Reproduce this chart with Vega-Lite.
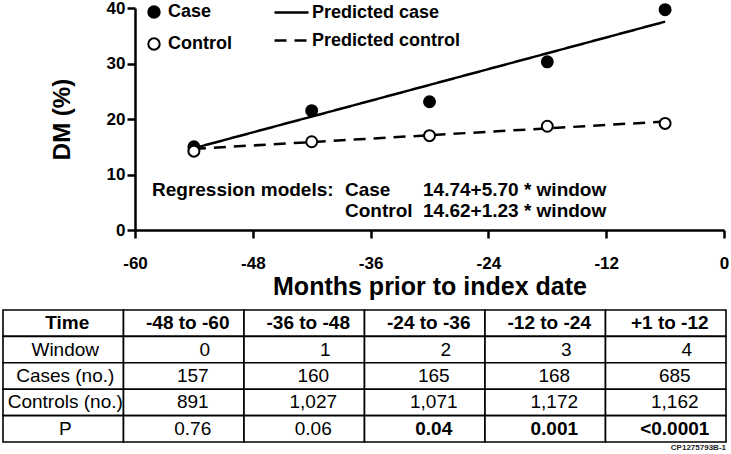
{
  "$schema": "https://vega.github.io/schema/vega-lite/v6.json",
  "autosize": {"type": "none"},
  "padding": {"left": 135, "top": 8, "right": 7, "bottom": 224},
  "width": 589,
  "height": 222,
  "background": "white",
  "config": {
    "view": {"stroke": null},
    "font": "Liberation Sans",
    "axis": {
      "grid": false,
      "domainColor": "black",
      "domainWidth": 2.5,
      "tickColor": "black",
      "tickWidth": 2.5,
      "tickSize": 8,
      "labelFont": "Liberation Sans",
      "labelFontWeight": "bold",
      "labelFontSize": 17,
      "labelColor": "black",
      "labelFlush": false,
      "labelOverlap": false,
      "labelExpr": "toString(datum.value)",
      "titleFont": "Liberation Sans",
      "titleFontWeight": "bold",
      "titleColor": "black",
      "titleFontSize": 24
    },
    "axisX": {"labelPadding": 17, "titlePadding": 3, "titleFontSize": 25},
    "axisY": {"labelPadding": 2, "titlePadding": 32}
  },
  "datasets": {
    "obs": [
      {"m": -54, "grp": "Case", "pct": 15.0},
      {"m": -42, "grp": "Case", "pct": 21.5},
      {"m": -30, "grp": "Case", "pct": 23.1},
      {"m": -18, "grp": "Case", "pct": 30.3},
      {"m": -6, "grp": "Case", "pct": 39.7},
      {"m": -54, "grp": "Control", "pct": 14.2},
      {"m": -42, "grp": "Control", "pct": 15.9},
      {"m": -30, "grp": "Control", "pct": 17.0},
      {"m": -18, "grp": "Control", "pct": 18.7},
      {"m": -6, "grp": "Control", "pct": 19.2}
    ],
    "pred": [
      {"m": -54, "series": "Predicted case", "pct": 14.74},
      {"m": -42, "series": "Predicted case", "pct": 20.44},
      {"m": -30, "series": "Predicted case", "pct": 26.14},
      {"m": -18, "series": "Predicted case", "pct": 31.84},
      {"m": -6, "series": "Predicted case", "pct": 37.54},
      {"m": -54, "series": "Predicted control", "pct": 14.62},
      {"m": -42, "series": "Predicted control", "pct": 15.85},
      {"m": -30, "series": "Predicted control", "pct": 17.08},
      {"m": -18, "series": "Predicted control", "pct": 18.31},
      {"m": -6, "series": "Predicted control", "pct": 19.54}
    ],
    "table": [
      {"r": 0, "c": 0, "t": "Time", "sig": false},
      {"r": 0, "c": 1, "t": "-48 to -60", "sig": false},
      {"r": 0, "c": 2, "t": "-36 to -48", "sig": false},
      {"r": 0, "c": 3, "t": "-24 to -36", "sig": false},
      {"r": 0, "c": 4, "t": "-12 to -24", "sig": false},
      {"r": 0, "c": 5, "t": "+1 to -12", "sig": false},
      {"r": 1, "c": 0, "t": "Window", "sig": false},
      {"r": 1, "c": 1, "t": "0", "sig": false},
      {"r": 1, "c": 2, "t": "1", "sig": false},
      {"r": 1, "c": 3, "t": "2", "sig": false},
      {"r": 1, "c": 4, "t": "3", "sig": false},
      {"r": 1, "c": 5, "t": "4", "sig": false},
      {"r": 2, "c": 0, "t": "Cases (no.)", "sig": false},
      {"r": 2, "c": 1, "t": "157", "sig": false},
      {"r": 2, "c": 2, "t": "160", "sig": false},
      {"r": 2, "c": 3, "t": "165", "sig": false},
      {"r": 2, "c": 4, "t": "168", "sig": false},
      {"r": 2, "c": 5, "t": "685", "sig": false},
      {"r": 3, "c": 0, "t": "Controls (no.)", "sig": false},
      {"r": 3, "c": 1, "t": "891", "sig": false},
      {"r": 3, "c": 2, "t": "1,027", "sig": false},
      {"r": 3, "c": 3, "t": "1,071", "sig": false},
      {"r": 3, "c": 4, "t": "1,172", "sig": false},
      {"r": 3, "c": 5, "t": "1,162", "sig": false},
      {"r": 4, "c": 0, "t": "P", "sig": false},
      {"r": 4, "c": 1, "t": "0.76", "sig": false},
      {"r": 4, "c": 2, "t": "0.06", "sig": false},
      {"r": 4, "c": 3, "t": "0.04", "sig": true},
      {"r": 4, "c": 4, "t": "0.001", "sig": true},
      {"r": 4, "c": 5, "t": "<0.0001", "sig": true}
    ],
    "foot": [
      {"r": 5, "c": 5, "t": "CP1275793B-1"}
    ]
  },
  "layer": [
    {
      "layer": [
        {
          "data": {"name": "pred"},
          "mark": {"type": "line", "color": "black", "strokeWidth": 2.5},
          "encoding": {
            "x": {"field": "m", "type": "quantitative", "title": "Months prior to index date",
                  "scale": {"domain": [-60, 0], "nice": false},
                  "axis": {"values": [-60, -48, -36, -24, -12, 0]}},
            "y": {"field": "pct", "type": "quantitative", "title": "DM (%)",
                  "scale": {"domain": [0, 40], "nice": false},
                  "axis": {"values": [0, 10, 20, 30, 40]}},
            "strokeDash": {
              "field": "series", "type": "nominal",
              "scale": {"domain": ["Predicted case", "Predicted control"], "range": [[1, 0], [12, 8]]},
              "legend": {
                "orient": "none", "legendX": 138, "legendY": -14, "title": null, "padding": 0,
                "symbolType": "stroke", "symbolSize": 1156, "symbolStrokeColor": "black", "symbolStrokeWidth": 2.5,
                "labelFont": "Liberation Sans", "labelFontWeight": "bold", "labelFontSize": 18, "labelColor": "black",
                "labelOffset": 2, "rowPadding": -2
              }
            }
          }
        },
        {
          "data": {"name": "obs"},
          "mark": {"type": "point", "shape": "circle", "filled": true, "size": 120, "stroke": "black", "strokeWidth": 2, "opacity": 1},
          "encoding": {
            "x": {"field": "m", "type": "quantitative", "title": "Months prior to index date"},
            "y": {"field": "pct", "type": "quantitative", "title": "DM (%)"},
            "fill": {
              "field": "grp", "type": "nominal",
              "scale": {"domain": ["Case", "Control"], "range": ["black", "white"]},
              "legend": {
                "orient": "none", "legendX": 10, "legendY": -5, "title": null, "padding": 0,
                "symbolType": "circle", "symbolSize": 130, "symbolStrokeColor": "black", "symbolStrokeWidth": 2,
                "labelFont": "Liberation Sans", "labelFontWeight": "bold", "labelFontSize": 18, "labelColor": "black",
                "labelOffset": 5, "rowPadding": 12
              }
            }
          }
        },
        {
          "data": {"values": [{}]},
          "mark": {"type": "text", "text": "Regression models:", "align": "left", "baseline": "alphabetic",
                   "font": "Liberation Sans", "fontWeight": "bold", "fontSize": 19, "color": "black"},
          "encoding": {
            "x": {"datum": -58.27, "type": "quantitative"},
            "y": {"datum": 6.1, "type": "quantitative"}
          }
        },
        {
          "data": {"values": [{}]},
          "mark": {"type": "text", "text": ["Case", "Control"], "lineHeight": 21, "align": "left", "baseline": "alphabetic",
                   "font": "Liberation Sans", "fontWeight": "bold", "fontSize": 19, "color": "black"},
          "encoding": {
            "x": {"datum": -38.61, "type": "quantitative"},
            "y": {"datum": 6.1, "type": "quantitative"}
          }
        },
        {
          "data": {"values": [{}]},
          "mark": {"type": "text", "text": ["14.74+5.70 * window", "14.62+1.23 * window"], "lineHeight": 21, "align": "left", "baseline": "alphabetic",
                   "font": "Liberation Sans", "fontWeight": "bold", "fontSize": 19, "color": "black"},
          "encoding": {
            "x": {"datum": -30.66, "type": "quantitative"},
            "y": {"datum": 6.1, "type": "quantitative"}
          }
        }
      ]
    },
    {
      "encoding": {
        "x": {"field": "c", "type": "ordinal", "axis": null,
              "scale": {"type": "band", "domain": [0, 1, 2, 3, 4, 5], "range": [-132, 591], "paddingInner": 0, "paddingOuter": 0}},
        "y": {"field": "r", "type": "ordinal", "axis": null,
              "scale": {"type": "band", "domain": [0, 1, 2, 3, 4, 5], "range": [302, 460.4], "paddingInner": 0, "paddingOuter": 0}}
      },
      "layer": [
        {
          "data": {"name": "table"},
          "mark": {"type": "rect", "fill": "white", "stroke": "black", "strokeWidth": 1.6}
        },
        {
          "data": {"name": "table"},
          "transform": [{"filter": "datum.r == 0"}],
          "mark": {"type": "text", "font": "Liberation Sans", "fontWeight": "bold", "fontSize": 19, "color": "black", "dx": 4},
          "encoding": {"text": {"field": "t"}}
        },
        {
          "data": {"name": "table"},
          "transform": [{"filter": "datum.r > 0 && datum.c == 0"}],
          "mark": {"type": "text", "font": "Liberation Sans", "fontSize": 19, "color": "black", "dx": 2},
          "encoding": {"text": {"field": "t"}}
        },
        {
          "data": {"name": "table"},
          "transform": [{"filter": "datum.r == 1 && datum.c > 0"}],
          "mark": {"type": "text", "font": "Liberation Sans", "fontSize": 19, "color": "black", "dx": 21},
          "encoding": {"text": {"field": "t"}}
        },
        {
          "data": {"name": "table"},
          "transform": [{"filter": "datum.r >= 2 && datum.c > 0 && !datum.sig"}],
          "mark": {"type": "text", "font": "Liberation Sans", "fontSize": 19, "color": "black", "dx": 9},
          "encoding": {"text": {"field": "t"}}
        },
        {
          "data": {"name": "table"},
          "transform": [{"filter": "datum.sig"}],
          "mark": {"type": "text", "font": "Liberation Sans", "fontWeight": "bold", "fontSize": 19, "color": "black", "dx": 9},
          "encoding": {"text": {"field": "t"}}
        },
        {
          "data": {"name": "foot"},
          "mark": {"type": "text", "font": "Liberation Sans", "fontWeight": "bold", "fontSize": 8, "color": "#222222", "align": "right", "baseline": "top", "dy": 2},
          "encoding": {
            "x": {"field": "c", "type": "ordinal", "bandPosition": 1},
            "y": {"field": "r", "type": "ordinal", "bandPosition": 0},
            "text": {"field": "t"}
          }
        }
      ]
    }
  ],
  "resolve": {"scale": {"x": "independent", "y": "independent"}}
}
